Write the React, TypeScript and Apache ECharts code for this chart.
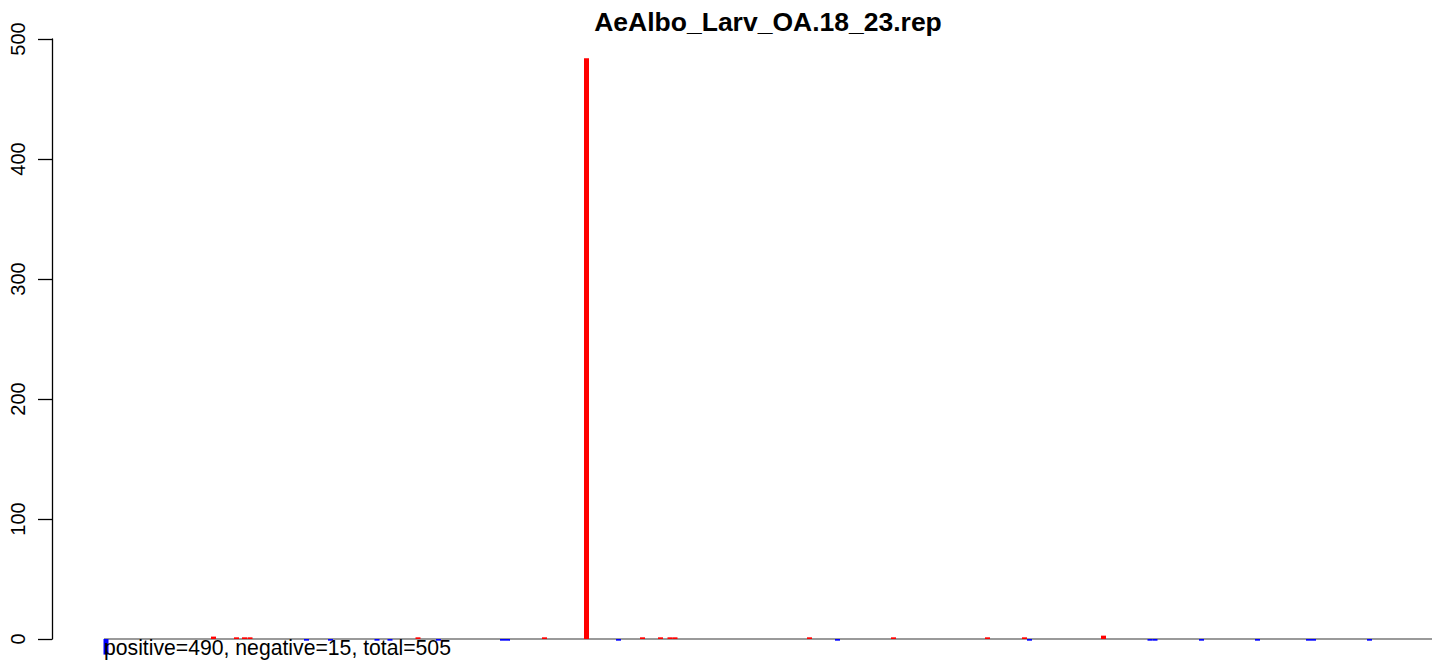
import React, { useEffect, useRef } from "react";
import * as echarts from "echarts";

const chartTitle = "AeAlbo_Larv_OA.18_23.rep";
const footerText = "positive=490, negative=15, total=505";

// positions along the sequence (x)
const positivePositions = [109.5, 132.5, 140.5, 146, 314, 440.5, 482.5, 538.5, 556.5, 566, 571, 705.5, 789.5, 883.5, 920.5, 999.5];
const positiveValues = [2, 1.4, 1.4, 1.4, 1.4, 1.4, 484, 1.4, 1.4, 1.4, 1.4, 1.4, 1.4, 1.4, 1.4, 2.8];

const negativePositions = [2, 202.5, 226.5, 273, 286, 334.5, 398.5, 403.5, 514.5, 733.5, 925.5, 1046, 1051, 1097.5, 1153.5, 1204.5, 1209.5, 1265.5];
const negativeValues = [-13, -1.4, -1.4, -1.4, -1.4, -1.4, -1.4, -1.4, -1.4, -1.4, -1.4, -1.4, -1.4, -1.4, -1.4, -1.4, -1.4, -1.4];

const xRange = [0, 1328];
const yTicks = [0, 100, 200, 300, 400, 500];

const FONT = "'Liberation Sans', Arial, Helvetica, sans-serif";

export default function App() {
  const ref = useRef<HTMLDivElement>(null);

  useEffect(() => {
    document.body.style.margin = "0";
    if (!ref.current) return;
    const chart = echarts.init(ref.current, null, { renderer: "svg" });
    const option: any = {
      animation: false,
      backgroundColor: "#ffffff",
      grid: { left: 104, right: 7, top: 39, bottom: 25, containLabel: false },
      xAxis: {
        type: "value",
        min: xRange[0],
        max: xRange[1],
        show: false,
        splitLine: { show: false },
      },
      yAxis: {
        type: "value",
        min: yTicks[0],
        max: yTicks[yTicks.length - 1],
        interval: yTicks[1] - yTicks[0],
        offset: 52,
        axisLine: { show: true, onZero: false, lineStyle: { color: "#000", width: 1.3 } },
        axisTick: { show: true, length: 14, lineStyle: { color: "#000", width: 1.3 } },
        axisLabel: {
          rotate: 90,
          fontSize: 20,
          color: "#000",
          fontFamily: FONT,
          margin: 24,
        },
        splitLine: { show: false },
      },
      series: [
        {
          type: "line",
          data: [[xRange[0], 0], [xRange[1], 0]],
          symbol: "none",
          lineStyle: { color: "#9a9a9a", width: 1.8 },
          z: 1,
          silent: true,
        },
        {
          type: "bar",
          data: positivePositions.map((p, i) => [p, positiveValues[i]]),
          barWidth: 5,
          barGap: "-100%",
          itemStyle: { color: "#ff0000" },
          clip: false,
          z: 3,
        },
        {
          type: "bar",
          data: negativePositions.map((p, i) => [p, negativeValues[i]]),
          barWidth: 5,
          barGap: "-100%",
          itemStyle: { color: "#0000ff" },
          clip: false,
          z: 3,
        },
      ],
      graphic: [
        {
          type: "text",
          x: 768,
          y: 22,
          style: {
            text: chartTitle,
            font: `bold 26.5px ${FONT}`,
            fill: "#000",
            align: "center",
            verticalAlign: "middle",
          },
        },
        {
          type: "text",
          x: 104,
          y: 647,
          z: 10,
          style: {
            text: footerText,
            font: `21.2px ${FONT}`,
            fill: "#000",
            align: "left",
            verticalAlign: "middle",
          },
        },
      ],
    };
    chart.setOption(option);
    return () => chart.dispose();
  }, []);

  return (
    <div
      ref={ref}
      style={{ position: "absolute", left: 0, top: 0, width: 1439, height: 664 }}
    />
  );
}
